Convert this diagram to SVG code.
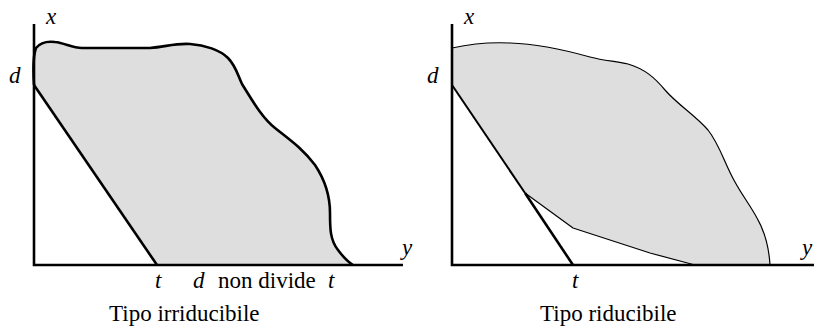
<svg xmlns="http://www.w3.org/2000/svg" width="814" height="329" viewBox="0 0 814 329">
<style>
.axis{stroke:#000;stroke-width:2.6;fill:none}
.region{fill:#dedede;stroke:none}
.thick{stroke:#000;stroke-width:2.6;fill:none;stroke-linejoin:round}
.thin{stroke:#000;stroke-width:1.2;fill:none;stroke-linejoin:round}
.lbl{font-family:"Liberation Serif","Times New Roman",serif;font-size:23px;fill:#000}
.it{font-style:italic}
</style>
<rect width="814" height="329" fill="#fff"/>
<g id="left-panel">
  <g id="left-region">
    <path class="region" d="M34,85 C33,70 33,56 36,48 C40,43 47,41 55,42 C65,43 72,48 82,48 L150,48 C165,47 175,43 190,44 C205,45 220,50 228,58 C236,66 238,76 242,84 C252,100 262,118 275,128 C290,140 302,148 315,165 C325,180 330,195 330,213 C330,228 330,240 338,250 C344,258 348,262 353,265 L157,265 Z"/>
    <path class="thick" d="M34,85 C33,70 33,56 36,48 C40,43 47,41 55,42 C65,43 72,48 82,48 L150,48 C165,47 175,43 190,44 C205,45 220,50 228,58 C236,66 238,76 242,84 C252,100 262,118 275,128 C290,140 302,148 315,165 C325,180 330,195 330,213 C330,228 330,240 338,250 C344,258 348,262 353,265"/>
    <path class="thick" d="M34,85 L157,265"/>
  </g>
  <g id="left-axes">
    <path class="axis" d="M34,24 V265 H403"/>
  </g>
  <text class="lbl it" x="46" y="24">x</text>
  <text class="lbl it" x="402" y="255">y</text>
  <text class="lbl it" x="9" y="83">d</text>
  <text class="lbl it" x="155" y="288">t</text>
  <text class="lbl it" x="193" y="288">d</text>
  <text class="lbl" x="218" y="288">non divide</text>
  <text class="lbl it" x="328" y="288">t</text>
  <text class="lbl" x="109" y="321">Tipo irriducibile</text>
</g>
<g id="right-panel">
  <g id="right-region">
    <path class="region" d="M452,48 C470,44 490,42 510,43 C540,44 565,50 590,57 C605,61 615,61 628,64 C645,69 655,78 665,90 C678,105 695,115 708,130 C720,145 725,165 735,182 C742,195 750,205 757,218 C765,232 769,248 770,265 L695,265 L650,253 L573,228 L525,193 L452,85 Z"/>
    <path class="thin" d="M452,48 C470,44 490,42 510,43 C540,44 565,50 590,57 C605,61 615,61 628,64 C645,69 655,78 665,90 C678,105 695,115 708,130 C720,145 725,165 735,182 C742,195 750,205 757,218 C765,232 769,248 770,265"/>
    <path class="thin" d="M525,193 L573,228 L650,253 L695,265"/>
    <path class="thick" style="stroke-width:2" d="M452,85 L525,193"/>
    <path class="thick" d="M525,193 L573,265"/>
  </g>
  <g id="right-axes">
    <path class="axis" d="M452,24 V265 H814"/>
  </g>
  <text class="lbl it" x="464" y="24">x</text>
  <text class="lbl it" x="802" y="255">y</text>
  <text class="lbl it" x="427" y="83">d</text>
  <text class="lbl it" x="572" y="288">t</text>
  <text class="lbl" x="540" y="321">Tipo riducibile</text>
</g>
</svg>
